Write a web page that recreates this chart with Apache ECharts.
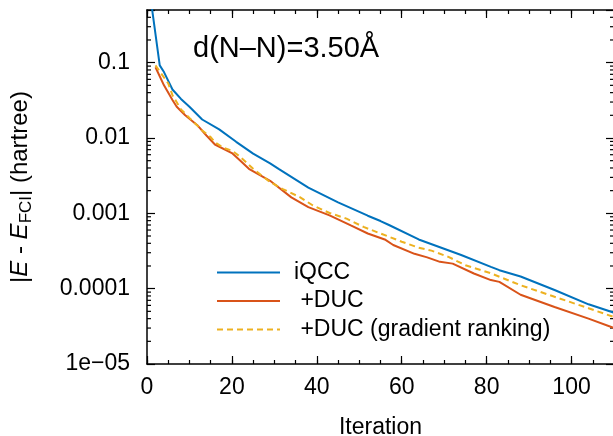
<!DOCTYPE html>
<html>
<head>
<meta charset="utf-8">
<script src="https://cdn.jsdelivr.net/npm/echarts@6/dist/echarts.min.js"></script>
<style>
  html, body { margin: 0; padding: 0; background: #fff; }
  #chart { width: 613px; height: 436px; }
</style>
</head>
<body>
<div id="chart"></div>
<script>
// values
const iqccIter = [1, 3, 4, 6, 8, 10, 13, 17, 21, 25, 29, 31, 38, 45, 52, 55, 57, 64, 74, 81, 83, 88, 96, 104, 110];
const iqccErr = [0.62, 0.092, 0.075, 0.044, 0.033, 0.026, 0.0176, 0.013, 0.0089, 0.0062, 0.0046, 0.0039, 0.0022, 0.0014, 0.00093, 0.00079, 0.0007, 0.00045, 0.00028, 0.000195, 0.000176, 0.000145, 0.000096, 0.000062, 0.000048];

const ducIter = [2, 4, 6, 7, 9, 12, 14, 16, 20, 22, 24, 29, 34, 38, 43, 48, 52, 56, 58, 63, 66, 69, 72, 77, 81, 83, 88, 96, 104, 110];
const ducErr = [0.087, 0.05, 0.032, 0.026, 0.02, 0.0145, 0.0108, 0.0082, 0.0063, 0.005, 0.0039, 0.0027, 0.00163, 0.00121, 0.00094, 0.00069, 0.00054, 0.00045, 0.00038, 0.00029, 0.00026, 0.000227, 0.000215, 0.000159, 0.00013, 0.000123, 0.000083, 0.000057, 0.00004, 0.00003];

const gradIter = [2, 5, 6, 8, 10, 13, 15, 16, 18, 20, 22, 25, 29, 32, 36, 39, 43, 47, 51, 55, 60, 64, 67, 71, 75, 81, 88, 96, 104, 110];
const gradErr = [0.092, 0.053, 0.037, 0.024, 0.0185, 0.0126, 0.0103, 0.0088, 0.0074, 0.0068, 0.0056, 0.0039, 0.0026, 0.0021, 0.00164, 0.00128, 0.00101, 0.00085, 0.00066, 0.00054, 0.00042, 0.00035, 0.00032, 0.000264, 0.000205, 0.00016, 0.000111, 0.000078, 0.000055, 0.000042];

const seriesNames = ['iQCC', ' +DUC', ' +DUC (gradient ranking)'];
const xLabels = ['0', '20', '40', '60', '80', '100'];
const yTickValues = [1e-5, 1e-4, 1e-3, 1e-2, 1e-1];
const yLabels = ['1e\u221205', '0.0001', '0.001', '0.01', '0.1'];

const FONT = 'Liberation Sans';
const xMin = 0, xMax = 110;
const yMin = 1e-5, yMax = 0.5;

// minor ticks of the log axis (2..9 per decade)
let minorVals = [];
for (let e = -5; e <= -1; e++) {
    for (let k = 2; k <= 9; k++) {
        let v = k * Math.pow(10, e);
        if (v < yMax) minorVals.push([v]);
    }
}

function pairs(xs, ys) {
    let out = [];
    for (let i = 0; i < xs.length; i++) out.push([xs[i], ys[i]]);
    return out;
}

function yLabel(v) {
    for (let i = 0; i < yTickValues.length; i++) {
        if (Math.abs(Math.log10(v) - Math.log10(yTickValues[i])) < 1e-6) return yLabels[i];
    }
    return '';
}

// short inward tick on both the left and right border at a y value
function minorTick(params, api) {
    const v = api.value(0);
    const pl = api.coord([xMin, v]);
    const pr = api.coord([xMax, v]);
    const st = { stroke: '#000', lineWidth: 1.2 };
    return {
        type: 'group',
        children: [
            { type: 'line', shape: { x1: pl[0], y1: pl[1], x2: pl[0] + 4, y2: pl[1] }, style: st },
            { type: 'line', shape: { x1: pr[0] - 4, y1: pr[1], x2: pr[0], y2: pr[1] }, style: st }
        ]
    };
}

const lineAxis = { show: true, onZero: false, lineStyle: { color: '#000', width: 1.5 } };
const noLine = { show: false, onZero: false };
const majorTick = { show: true, inside: true, length: 8, lineStyle: { color: '#000', width: 1.2 } };
const smallTick = { show: true, inside: true, length: 4, lineStyle: { color: '#000', width: 1.2 } };

myChart = echarts.init(document.getElementById('chart'));
option = {
    animation: false,
    textStyle: { fontFamily: FONT },
    title: {
        text: 'd(N\u2013N)=3.50\u00c5',
        left: 193,
        top: 34,
        padding: 0,
        textStyle: { fontFamily: FONT, fontSize: 29, fontWeight: 'normal', color: '#000' }
    },
    legend: {
        orient: 'vertical',
        left: 216,
        top: 261,
        padding: 0,
        itemWidth: 63,
        itemHeight: 14,
        itemGap: 5.5,
        itemStyle: { opacity: 0 },
        textStyle: { fontFamily: FONT, fontSize: 23, color: '#000', lineHeight: 22, padding: [0, 0, 0, 9] },
        data: seriesNames
    },
    grid: { left: 147, right: -1, top: 10, bottom: 72, containLabel: false, outerBoundsMode: 'none' },
    xAxis: [
        {
            type: 'value', position: 'bottom', min: xMin, max: xMax, interval: 20,
            name: 'Iteration', nameLocation: 'middle', nameGap: 52,
            nameTextStyle: { fontFamily: FONT, fontSize: 23, color: '#000' },
            axisLine: lineAxis,
            axisTick: majorTick,
            axisLabel: {
                margin: 12, fontFamily: FONT, fontSize: 23, color: '#000',
                formatter: function (v) { return v % 20 === 0 && v <= 100 ? xLabels[v / 20] : ''; }
            },
            splitLine: { show: false }
        },
        {
            type: 'value', position: 'bottom', min: xMin, max: xMax, interval: 5,
            axisLine: noLine, axisTick: smallTick,
            axisLabel: { show: false }, splitLine: { show: false }
        },
        {
            type: 'value', position: 'top', min: xMin, max: xMax, interval: 20,
            axisLine: lineAxis, axisTick: majorTick,
            axisLabel: { show: false }, splitLine: { show: false }
        },
        {
            type: 'value', position: 'top', min: xMin, max: xMax, interval: 5,
            axisLine: noLine, axisTick: smallTick,
            axisLabel: { show: false }, splitLine: { show: false }
        }
    ],
    yAxis: [
        {
            type: 'log', logBase: 10, position: 'left', min: yMin, max: yMax,
            name: '|{i|E} - {i|E}{s|FCI}| (hartree)',
            nameLocation: 'middle', nameGap: 112, nameRotate: 90,
            nameTextStyle: {
                fontFamily: FONT, fontSize: 24, color: '#000', lineHeight: 30,
                rich: {
                    i: { fontFamily: FONT, fontSize: 24, fontStyle: 'italic', color: '#000', lineHeight: 30 },
                    s: { fontFamily: FONT, fontSize: 17, color: '#000', lineHeight: 18, verticalAlign: 'bottom' }
                }
            },
            axisLine: lineAxis,
            axisTick: majorTick,
            axisLabel: { margin: 17, fontFamily: FONT, fontSize: 23, color: '#000', formatter: yLabel },
            splitLine: { show: false }
        },
        {
            type: 'log', logBase: 10, position: 'right', min: yMin, max: yMax,
            axisLine: lineAxis, axisTick: majorTick,
            axisLabel: { show: false }, splitLine: { show: false }
        }
    ],
    series: [
        {
            name: seriesNames[0], type: 'line', xAxisIndex: 0, yAxisIndex: 0,
            symbol: 'none', clip: true,
            lineStyle: { color: '#0072bd', width: 2 }, itemStyle: { color: '#0072bd' },
            data: pairs(iqccIter, iqccErr)
        },
        {
            name: seriesNames[1], type: 'line', xAxisIndex: 0, yAxisIndex: 0,
            symbol: 'none', clip: true,
            lineStyle: { color: '#d95319', width: 2 }, itemStyle: { color: '#d95319' },
            data: pairs(ducIter, ducErr)
        },
        {
            name: seriesNames[2], type: 'line', xAxisIndex: 0, yAxisIndex: 0,
            symbol: 'none', clip: true,
            lineStyle: { color: '#edb120', width: 2, type: [6, 4] }, itemStyle: { color: '#edb120' },
            data: pairs(gradIter, gradErr)
        },
        {
            name: 'minor ticks', type: 'custom', xAxisIndex: 0, yAxisIndex: 0,
            silent: true, clip: false,
            dimensions: ['y'], encode: { y: 0 },
            renderItem: minorTick,
            data: minorVals
        }
    ]
};
myChart.setOption(option);
</script>
</body>
</html>
